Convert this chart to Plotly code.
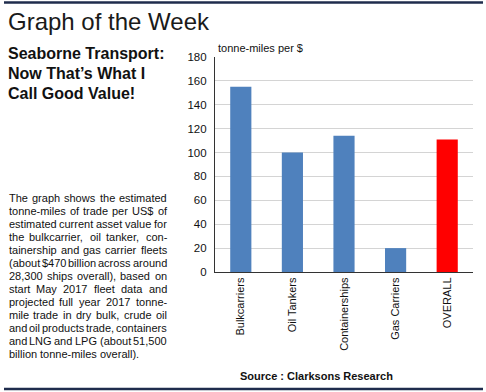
import plotly.graph_objects as go

# ---------------- data ----------------
categories = ["Bulkcarriers", "Oil Tankers", "Containerships", "Gas Carriers", "OVERALL"]
values = [155, 100, 114, 20, 111]
bar_colors = ["#4f81bd", "#4f81bd", "#4f81bd", "#4f81bd", "#ff0000"]
y_ticks = [0, 20, 40, 60, 80, 100, 120, 140, 160, 180]

title_text = "Graph of the Week"
subtitle_lines = ["Seaborne Transport:", "Now That\u2019s What I", "Call Good Value!"]
body_lines = [
    "The graph shows the estimated",
    "tonne-miles of trade per US$ of",
    "estimated current asset value for",
    "the bulkcarrier, oil tanker, con-",
    "tainership and gas carrier fleets",
    "(about $470 billion across around",
    "28,300 ships overall), based on",
    "start May 2017 fleet data and",
    "projected full year 2017 tonne-",
    "mile trade in dry bulk, crude oil",
    "and oil products trade, containers",
    "and LNG and LPG (about 51,500",
    "billion tonne-miles overall).",
]
y_axis_title = "tonne-miles per $"
source_text = "Source : Clarksons Research"

# ---------------- layout helpers ----------------
W, H = 486, 392
PL, PR, PT, PB = 215, 473, 57, 272  # plot area in pixels


def px(x):
    return (x - PL) / (PR - PL)


def py(y):
    return (PB - y) / (PB - PT)


# Arial / Liberation Sans advance widths (per 1000 em)
AW = {" ": 278, "!": 278, "$": 556, "(": 333, ")": 333, ",": 278, "-": 333, ".": 278, ":": 278,
      "\u2019": 222}
for d in "0123456789":
    AW[d] = 556
AW.update({"A": 667, "B": 667, "C": 722, "D": 722, "E": 667, "F": 611, "G": 778, "H": 722, "I": 278,
           "L": 556, "M": 833, "N": 722, "O": 778, "P": 667, "R": 722, "S": 667, "T": 611, "U": 722,
           "V": 667, "W": 944})
AW.update({"a": 556, "b": 556, "c": 500, "d": 556, "e": 556, "f": 278, "g": 556, "h": 556, "i": 222,
           "j": 222, "k": 500, "l": 222, "m": 833, "n": 556, "o": 556, "p": 556, "q": 556, "r": 333,
           "s": 500, "t": 278, "u": 556, "v": 500, "w": 722, "x": 500, "y": 500, "z": 500})


def tw(s, size):
    return sum(AW.get(c, 556) for c in s) * size / 1000.0


FONT = "Liberation Sans, Arial, Helvetica, sans-serif"
TXT = "#111111"

fig = go.Figure(
    go.Bar(
        x=categories,
        y=values,
        marker=dict(color=bar_colors, line=dict(width=0)),
        hoverinfo="skip",
    )
)

annotations = []

# title
annotations.append(dict(text=title_text, x=px(7), y=py(21), xref="paper", yref="paper",
                        xanchor="left", yanchor="middle", showarrow=False, borderpad=0,
                        font=dict(family=FONT, size=24, color="#1a1a1a")))
# subtitle
for i, line in enumerate(subtitle_lines):
    annotations.append(dict(text="<b>" + line + "</b>", x=px(7), y=py(53 + 20 * i),
                            xref="paper", yref="paper", xanchor="left", yanchor="middle",
                            showarrow=False, borderpad=0,
                            font=dict(family=FONT, size=16, color=TXT)))

# justified body text, word by word
BS = 11
L, R = 7.5, 166.0
for i, line in enumerate(body_lines):
    yy = py(197.5 + 13 * i)
    words = line.split(" ")
    widths = [tw(w, BS) for w in words]
    if i == len(body_lines) - 1 or len(words) == 1:
        gap = tw(" ", BS)
    else:
        gap = (R - L - sum(widths)) / (len(words) - 1)
    x = L
    for w, wd in zip(words, widths):
        annotations.append(dict(text=w, x=px(x), y=yy, xref="paper", yref="paper",
                                xanchor="left", yanchor="middle", showarrow=False,
                                borderpad=0, font=dict(family=FONT, size=BS, color=TXT)))
        x += wd + gap

# y axis title
annotations.append(dict(text=y_axis_title, x=px(217), y=py(48), xref="paper", yref="paper",
                        xanchor="left", yanchor="middle", showarrow=False, borderpad=0,
                        font=dict(family=FONT, size=11, color=TXT)))
# source
annotations.append(dict(text="<b>" + source_text + "</b>", x=px(316), y=py(376),
                        xref="paper", yref="paper", xanchor="center", yanchor="middle",
                        showarrow=False, borderpad=0,
                        font=dict(family=FONT, size=11, color=TXT)))

shapes = [
    dict(type="line", xref="paper", yref="paper", x0=px(4), x1=px(483), y0=py(2.5), y1=py(2.5),
         line=dict(color="#1f2c4d", width=2.5)),
    dict(type="line", xref="paper", yref="paper", x0=px(4), x1=px(483), y0=py(389), y1=py(389),
         line=dict(color="#1f2c4d", width=2.5)),
]

fig.update_layout(
    width=W,
    height=H,
    margin=dict(l=PL, r=W - PR, t=PT, b=H - PB, pad=0),
    paper_bgcolor="white",
    plot_bgcolor="white",
    showlegend=False,
    bargap=0.59,
    annotations=annotations,
    shapes=shapes,
    font=dict(family=FONT, size=11, color=TXT),
)
fig.update_xaxes(
    showline=True, linecolor="#333333", linewidth=1.2, showgrid=False,
    tickangle=-90, tickfont=dict(family=FONT, size=11, color=TXT),
    ticks="", fixedrange=True,
)
fig.update_yaxes(
    range=[0, 180], tickvals=y_ticks, showline=True, linecolor="#333333", linewidth=1.2,
    showgrid=True, gridcolor="#d4d4d4", gridwidth=1, zeroline=False,
    tickfont=dict(family=FONT, size=11.5, color=TXT),
    ticks="outside", ticklen=5, tickcolor="rgba(0,0,0,0)", fixedrange=True,
)

fig.write_html(
    "out.html",
    config={"displayModeBar": False},
    post_script="document.body.style.margin='0px';document.body.style.padding='0px';",
)
